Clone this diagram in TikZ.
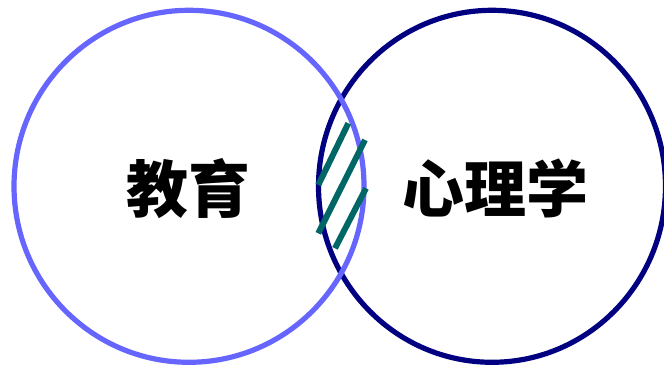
\documentclass[tikz,border=0pt]{standalone}
\usepackage{fontspec}
\newfontfamily\cjk{Noto Sans CJK SC}
\usepackage{tkz-euclide}
\definecolor{edublue}{HTML}{6666FF}
\definecolor{psynavy}{HTML}{000080}
\definecolor{hatchteal}{HTML}{006666}

\begin{document}
\begin{tikzpicture}[x=1pt,y=1pt]
\useasboundingbox (0,0) rectangle (664,367);
\tikzset{setname/.style={font=\cjk\bfseries\fontsize{62}{62}\selectfont,inner sep=0pt}}

\tkzDefPoints{189/180.7/E,492/180.7/P}
\tkzDefPoints{348.3/243.7/A,318.3/182/B,365/227/C,318.3/133.7/D,366/178.7/F,335/118.7/G}

\draw[line width=5.2pt,color=psynavy] (P) ellipse [x radius=173.5,y radius=176];
\draw[line width=5.2pt,color=edublue] (E) ellipse [x radius=175,y radius=176];

\tkzDrawSegments[line width=6pt,line cap=butt,color=hatchteal](A,B C,D F,G)

\node[setname] (edu) at (188,178.5) {教育};
\node[setname] (psy) at (495.5,178.5) {心理学};

\end{tikzpicture}
\end{document}
